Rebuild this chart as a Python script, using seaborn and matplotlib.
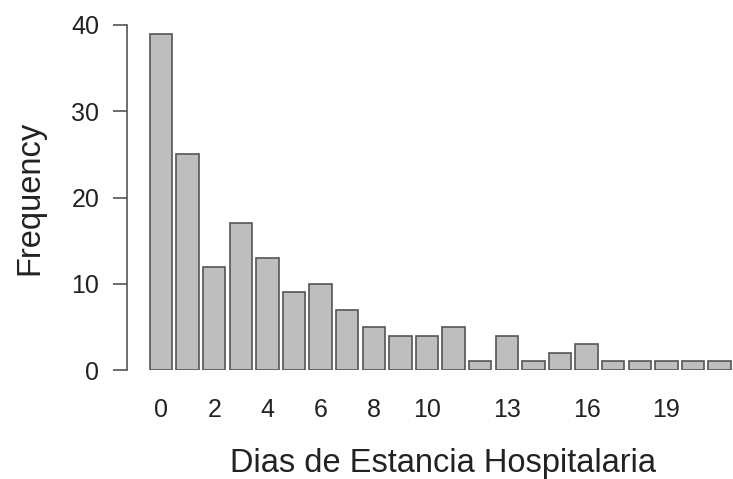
import pandas as pd
import seaborn as sns
import matplotlib.pyplot as plt

# Datos: dias de estancia y frecuencia
dias = list(range(22))
frecuencia = [39, 25, 12, 17, 13, 9, 10, 7, 5, 4, 4, 5, 1, 4, 1, 2, 3, 1, 1, 1, 1, 1]
etiquetas_x = [0, 2, 4, 6, 8, 10, 13, 16, 19]
ticks_y = [0, 10, 20, 30, 40]

df = pd.DataFrame({'dias': dias, 'freq': frecuencia})

sns.set_style('white')
plt.rcParams['font.family'] = ['Liberation Sans', 'DejaVu Sans']

fig = plt.figure(figsize=(7.33, 4.79), dpi=100)
ax = fig.add_axes([127 / 733, 109 / 479, (733 - 127) / 733, 345 / 479])

sns.barplot(data=df, x='dias', y='freq', color='#bebebe', saturation=1,
            width=0.84, edgecolor='#555555', linewidth=1.2, ax=ax)

ax.set_xlim((127 - 161) / 26.6, (733 - 161) / 26.6)
ax.set_ylim(0, 40)
ax.set_yticks(ticks_y)
ax.set_yticklabels([str(t) for t in ticks_y], fontsize=18, color='#222222')
ax.set_xticks(etiquetas_x)
ax.set_xticklabels([str(t) for t in etiquetas_x], fontsize=18, color='#222222')
ax.tick_params(axis='x', bottom=False, length=0, pad=20)
ax.tick_params(axis='y', left=True, length=10, width=1.2, color='#555555', pad=10, direction='out')

for s in ['top', 'right', 'bottom']:
    ax.spines[s].set_visible(False)
ax.spines['left'].set_color('#555555')
ax.spines['left'].set_linewidth(1.2)

ax.set_xlabel('Dias de Estancia Hospitalaria', fontsize=23.5, color='#222222')
ax.set_ylabel('Frequency', fontsize=23.5, color='#222222')
ax.xaxis.set_label_coords((443 - 127) / 606, -0.225)
ax.yaxis.set_label_coords(-(127 - 45) / 606, 0.5)

plt.savefig('out.png', dpi=100)
